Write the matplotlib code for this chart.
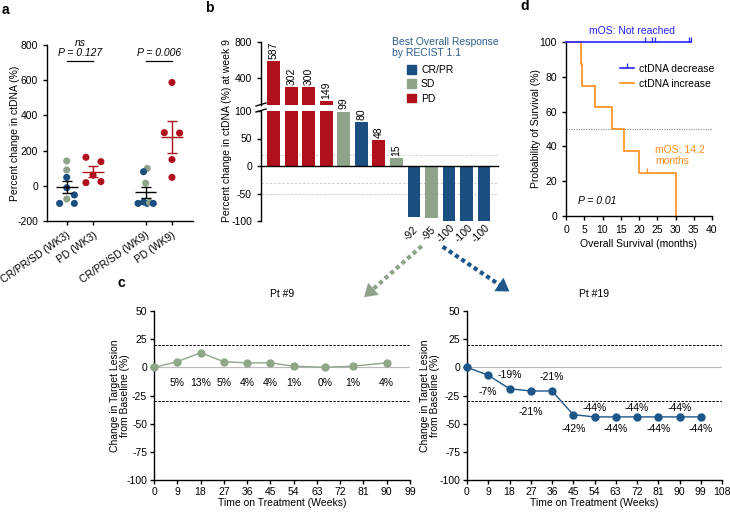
import matplotlib
matplotlib.use('Agg')
import matplotlib.pyplot as plt
import numpy as np
from matplotlib.lines import Line2D
from matplotlib.patches import Patch, FancyArrowPatch

plt.rcParams['font.family'] = ['Liberation Sans', 'DejaVu Sans']
plt.rcParams['font.size'] = 7
plt.rcParams['axes.unicode_minus'] = False
plt.rcParams['axes.linewidth'] = 1.0
plt.rcParams['xtick.major.width'] = 1.0
plt.rcParams['ytick.major.width'] = 1.0
plt.rcParams['xtick.major.size'] = 3
plt.rcParams['ytick.major.size'] = 3

# ---------------- data ----------------
# panel a
a_groups = ['CR/PR/SD (WK3)', 'PD (WK3)', 'CR/PR/SD (WK9)', 'PD (WK9)']
a_wk3_resp_vals = [141, 90, 48, -11, -52, -75, -100, -100]
a_wk3_resp_cat = ['SD', 'SD', 'CR/PR', 'CR/PR', 'CR/PR', 'SD', 'CR/PR', 'CR/PR']
a_wk3_pd_vals = [162, 137, 61, 18, 24]
a_wk9_resp_vals = [99, 80, 15, -100, -92, -100, -95, -100]
a_wk9_resp_cat = ['SD', 'CR/PR', 'SD', 'CR/PR', 'CR/PR', 'CR/PR', 'SD', 'CR/PR']
a_wk9_pd_vals = [587, 302, 300, 149, 48]
a_pvalues = ['P = 0.127', 'P = 0.006']
a_yticks = [-200, 0, 200, 400, 600, 800]

# panel b
b_values = [587, 302, 300, 149, 99, 80, 48, 15, -92, -95, -100, -100, -100]
b_response = ['PD', 'PD', 'PD', 'PD', 'SD', 'CR/PR', 'PD', 'SD',
              'CR/PR', 'SD', 'CR/PR', 'CR/PR', 'CR/PR']
b_ref_lines = [20, -30, -50]
b_upper_ticks = [400, 800]
b_lower_ticks = [-100, -50, 0, 50, 100]

# panel c
c9_weeks = [0, 9, 18, 27, 36, 45, 54, 66, 77, 90]
c9_change = [0, 5, 13, 5, 4, 4, 1, 0, 1, 4]
c19_weeks = [0, 9, 18, 27, 36, 45, 54, 63, 72, 81, 90, 99]
c19_change = [0, -7, -19, -21, -21, -42, -44, -44, -44, -44, -44, -44]
c_yticks = [-100, -75, -50, -25, 0, 25, 50]
c_thresholds = [20, -30]

# panel d
d_dec_times = [0, 34.3]
d_dec_surv = [100, 100]
d_dec_censor_t = [21.6, 23.6, 24.3, 33.8, 34.2]
d_dec_censor_s = [100, 100, 100, 100, 100]
d_inc_times = [0, 4.2, 4.5, 7.9, 12.5, 15.9, 19.9, 30.2]
d_inc_surv = [100, 87.5, 75, 62.5, 50, 37.5, 25, 0]
d_inc_censor_t = [22.2]
d_inc_censor_s = [25]

# ---------------- styles ----------------
BLUE = '#1b4f80'
GREEN = '#8fa38b'
RED = '#b0101c'
resp_colors = {'CR/PR': BLUE, 'SD': GREEN, 'PD': RED}
KM_BLUE = '#2424ff'
KM_ORANGE = '#ff8c1a'
C_GREEN = '#8fa689'
C_BLUE = '#1d5689'

W, H = 730, 512
fig = plt.figure(figsize=(W / 100, H / 100), dpi=100)


def rect(l, t, r, b):
    return [l / W, 1 - b / H, (r - l) / W, (b - t) / H]


def clean(ax, keep=('left', 'bottom')):
    for s in ['left', 'right', 'top', 'bottom']:
        ax.spines[s].set_visible(s in keep)


# ================= panel a =================
axa = fig.add_axes(rect(47, 45, 193, 221))
clean(axa)
a_pos = [1, 2, 4, 5]
jit_wk3_resp = [0, 0, 0, 0, 0.29, 0, -0.27, 0.29]
jit_wk3_pd = [-0.27, 0.3, 0, -0.27, 0.3]
jit_wk9_resp = [0.06, -0.08, 0, -0.29, -0.08, 0.06, 0.15, 0.29]
jit_wk9_pd = [0, -0.29, 0.29, 0, 0]

groups = [
    (a_pos[0], a_wk3_resp_vals, [resp_colors[c] for c in a_wk3_resp_cat], jit_wk3_resp, 'black'),
    (a_pos[1], a_wk3_pd_vals, [RED] * len(a_wk3_pd_vals), jit_wk3_pd, RED),
    (a_pos[2], a_wk9_resp_vals, [resp_colors[c] for c in a_wk9_resp_cat], jit_wk9_resp, 'black'),
    (a_pos[3], a_wk9_pd_vals, [RED] * len(a_wk9_pd_vals), jit_wk9_pd, RED),
]
for p, vals, cols, jit, lc in groups:
    vals = np.array(vals, dtype=float)
    axa.scatter(p + np.array(jit), vals, s=26, c=cols, zorder=2, linewidths=0)
    m = vals.mean()
    sem = vals.std(ddof=1) / np.sqrt(len(vals))
    axa.hlines(m, p - 0.41, p + 0.41, color=lc, lw=1.0, zorder=3)
    axa.errorbar(p, m, yerr=sem, fmt='none', ecolor=lc, elinewidth=1.0,
                 capsize=3.6, capthick=1.0, zorder=3)

axa.set_xlim(0.25, 5.8)
axa.set_ylim(-200, 800)
axa.set_yticks(a_yticks)
axa.set_xticks(a_pos)
axa.set_xticklabels(a_groups, rotation=35, ha='right', rotation_mode='anchor', fontsize=7.5)
axa.tick_params(labelsize=7.5)
# significance annotations
for (p1, p2), ptxt in zip([(1, 2), (4, 5)], a_pvalues):
    axa.plot([p1, p2], [709, 709], color='black', lw=0.9, clip_on=False)
    axa.text((p1 + p2) / 2, 756, ptxt, ha='center', va='center', style='italic', fontsize=7.5)
axa.text(1.5, 813, 'ns', ha='center', va='center', style='italic', fontsize=7.5)
fig.text(15 / W, 1 - 133 / H, 'Percent change in ctDNA (%)', rotation=90,
         ha='center', va='center', fontsize=7.5)

# ================= panel b =================
axu = fig.add_axes(rect(261, 42, 498, 105))
axl = fig.add_axes(rect(261, 111, 498, 221))
xb = np.arange(len(b_values))
bcols = [resp_colors[r] for r in b_response]
for ax in (axu, axl):
    ax.bar(xb, b_values, width=0.74, color=bcols, zorder=2)
    ax.set_xlim(-0.74, 12.8)
    ax.set_xticks([])
    ax.tick_params(labelsize=7.5)
clean(axu, ('left',))
clean(axl, ('left', 'bottom'))
axu.set_ylim(100, 800)
axu.set_yticks(b_upper_ticks)
axl.set_ylim(-100, 100)
axl.set_yticks(b_lower_ticks)
axl.spines['bottom'].set_position(('data', 0))
axl.spines['bottom'].set_zorder(3)
for y in b_ref_lines:
    axl.axhline(y, color='#c8c8c8', lw=0.6, ls=(0, (3, 2)), zorder=0)
for i, v in enumerate(b_values):
    if v > 100:
        axu.annotate(str(v), (i, v), xytext=(0, 1.5), textcoords='offset points',
                     rotation=90, ha='center', va='bottom', fontsize=7.5)
    elif v >= 0:
        axl.annotate(str(v), (i, v), xytext=(0, 1.5), textcoords='offset points',
                     rotation=90, ha='center', va='bottom', fontsize=7.5)
    else:
        axl.annotate(str(v), (i, -100), xytext=(-2, -9), textcoords='offset points',
                     rotation=45, ha='center', va='center', fontsize=7.5)
# break marks
for yb in (104.5, 110.5):
    fig.add_artist(Line2D([256 / W, 266 / W], [1 - (yb + 1.5) / H, 1 - (yb - 1.5) / H],
                          color='black', lw=1.0))
fig.text(227 / W, 1 - 131 / H, 'Percent change in ctDNA (%) at week 9', rotation=90,
         ha='center', va='center', fontsize=7.5)
fig.text(392 / W, 1 - 42 / H, 'Best Overall Response', color='#2b5d8c', fontsize=7.5,
         ha='left', va='center')
fig.text(392 / W, 1 - 53 / H, 'by RECIST 1.1', color='#2b5d8c', fontsize=7.5,
         ha='left', va='center')
handles_b = [Patch(color=resp_colors[k], label=k) for k in ['CR/PR', 'SD', 'PD']]
fig.legend(handles=handles_b, loc='upper left', bbox_to_anchor=(407 / W, 1 - 65 / H),
           frameon=False, fontsize=7.5, handlelength=0.9, handleheight=0.9,
           handletextpad=0.45, labelspacing=0.42, borderpad=0, borderaxespad=0)

# ================= panel d =================
axd = fig.add_axes(rect(566, 42, 712, 216))
clean(axd)
axd.step(d_dec_times, d_dec_surv, where='post', color=KM_BLUE, lw=1.2, clip_on=False, zorder=3)
axd.plot(d_dec_censor_t, d_dec_censor_s, ls='none', marker=2, ms=3.5, mew=0.9,
         color=KM_BLUE, clip_on=False, zorder=3)
axd.step(d_inc_times, d_inc_surv, where='post', color=KM_ORANGE, lw=1.2, clip_on=False, zorder=2)
axd.plot(d_inc_censor_t, d_inc_censor_s, ls='none', marker=2, ms=3.5, mew=0.9,
         color=KM_ORANGE, clip_on=False)
axd.axhline(50, color='#888888', lw=0.8, ls=(0, (1, 1.2)), zorder=1)
axd.set_xlim(0, 40)
axd.set_ylim(0, 100)
axd.set_xticks(np.arange(0, 41, 5))
axd.set_yticks(np.arange(0, 101, 20))
axd.tick_params(labelsize=7.5)
axd.set_xlabel('Overall Survival (months)', fontsize=7.5, labelpad=3)
fig.text(536 / W, 1 - 129 / H, 'Probability of Survival (%)', rotation=90,
         ha='center', va='center', fontsize=7.5)
fig.text(632 / W, 1 - 31 / H, 'mOS: Not reached', color=KM_BLUE, ha='center',
         va='center', fontsize=7.5)
axd.text(24.4, 35, 'mOS: 14.2\nmonths', color=KM_ORANGE, ha='left', va='center',
         fontsize=7.5, linespacing=1.1)
axd.text(3.3, 8.6, 'P = 0.01', style='italic', ha='left', va='center', fontsize=7.5)
handles_d = [Line2D([], [], color=KM_BLUE, lw=1.2, marker=2, ms=3.5, mew=0.9),
             Line2D([], [], color=KM_ORANGE, lw=1.2)]
axd.legend(handles_d, ['ctDNA decrease', 'ctDNA increase'], loc='upper left',
           bbox_to_anchor=((620 - 566) / 146, (216 - 64) / 174), frameon=False,
           fontsize=7.5, handlelength=1.3, handletextpad=0.5, labelspacing=0.45,
           borderpad=0, borderaxespad=0)

# ================= panel c =================
axc1 = fig.add_axes(rect(154, 311, 410, 480))
axc2 = fig.add_axes(rect(467, 311, 722, 480))
for ax, weeks, vals, col, xmax, title in [
        (axc1, c9_weeks, c9_change, C_GREEN, 99, 'Pt #9'),
        (axc2, c19_weeks, c19_change, C_BLUE, 108, 'Pt #19')]:
    clean(ax)
    ax.axhline(0, color='#bbbbbb', lw=0.8, zorder=1)
    for t in c_thresholds:
        ax.axhline(t, color='black', lw=0.7, ls=(0, (2.5, 1.5)), zorder=1)
    ax.plot(weeks, vals, color=col, lw=1.0, marker='o', ms=5, mec=col, mfc=col,
            zorder=3, clip_on=False)
    ax.set_xlim(0, xmax)
    ax.set_ylim(-100, 50)
    ax.set_xticks(np.arange(0, xmax + 1, 9))
    ax.set_yticks(c_yticks)
    ax.tick_params(labelsize=7.5, pad=2)
    ax.set_xlabel('Time on Treatment (Weeks)', fontsize=7.5, labelpad=1)
    ax.set_title(title, fontsize=7.5, pad=10)

for w, v in zip(c9_weeks[1:], c9_change[1:]):
    axc1.text(w, -14, f'{v}%', ha='center', va='center', fontsize=7.5)
c19_label_dy = [0, -15, 12, -19, 12, -13, 8, -11, 8, -11, 8, -11]
for w, v, dy in zip(c19_weeks[1:], c19_change[1:], c19_label_dy[1:]):
    axc2.text(w, v + dy, f'{v}%', ha='center', va='center', fontsize=7.5)

fig.text(120 / W, 1 - 396 / H, 'Change in Target Lesion\nfrom Baseline (%)', rotation=90,
         ha='center', va='center', fontsize=7.5, linespacing=1.0)
fig.text(430 / W, 1 - 396 / H, 'Change in Target Lesion\nfrom Baseline (%)', rotation=90,
         ha='center', va='center', fontsize=7.5, linespacing=1.0)

# ================= arrows =================
def fxy(x, y):
    return (x / W, 1 - y / H)


for (x0, y0), (x1, y1), col in [((421.7, 246), (362, 299), GREEN),
                                ((442.7, 246.7), (511.7, 293), C_BLUE)]:
    d = np.hypot(x1 - x0, y1 - y0)
    ux, uy = (x1 - x0) / d, (y1 - y0) / d
    xb_, yb_ = x1 - ux * 10, y1 - uy * 10
    fig.add_artist(Line2D([x0 / W, xb_ / W], [1 - y0 / H, 1 - yb_ / H], color=col,
                          lw=3.0, ls=(0, (1, 0.8)), solid_capstyle='butt',
                          dash_capstyle='butt'))
    fig.add_artist(FancyArrowPatch(fxy(xb_ - ux * 2, yb_ - uy * 2), fxy(x1, y1),
                                   transform=fig.transFigure,
                                   arrowstyle='-|>,head_length=0.7,head_width=0.45',
                                   mutation_scale=13, color=col, lw=0))

# ================= panel labels =================
for lab, x, y in [('a', 2, 14), ('b', 205, 12), ('c', 118, 287), ('d', 520, 10)]:
    fig.text(x / W, 1 - y / H, lab, fontsize=10, fontweight='bold', ha='left', va='baseline')

fig.savefig('out.png', dpi=100)
